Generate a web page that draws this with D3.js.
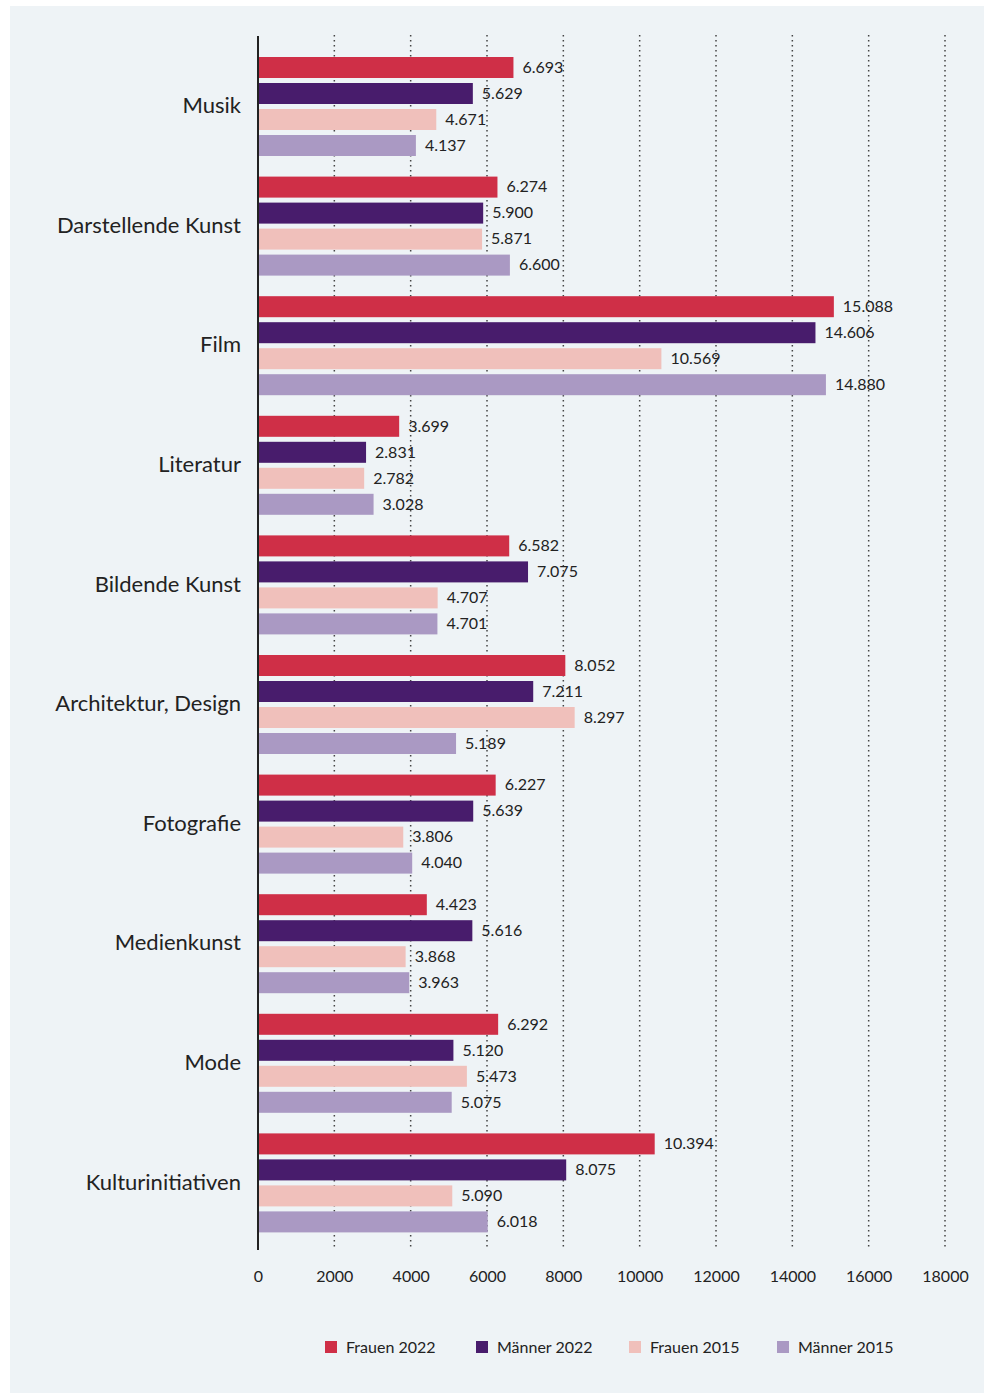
<!DOCTYPE html>
<html>
<head>
<meta charset="utf-8">
<script src="https://cdn.jsdelivr.net/npm/d3@7"></script>
<style>
  body { margin: 0; background: #fff; }
  svg { display: block; font-family: Lato, "Open Sans", sans-serif; }
</style>
</head>
<body>
<svg id="chart"></svg>
<script>
const categories = ['Musik', 'Darstellende Kunst', 'Film', 'Literatur', 'Bildende Kunst',
  'Architektur, Design', 'Fotografie', 'Medienkunst', 'Mode', 'Kulturinitiativen'];
const seriesNames = ['Frauen 2022', 'Männer 2022', 'Frauen 2015', 'Männer 2015'];
const frauen2022 = [6693, 6274, 15088, 3699, 6582, 8052, 6227, 4423, 6292, 10394];
const maenner2022 = [5629, 5900, 14606, 2831, 7075, 7211, 5639, 5616, 5120, 8075];
const frauen2015 = [4671, 5871, 10569, 2782, 4707, 8297, 3806, 3868, 5473, 5090];
const maenner2015 = [4137, 6600, 14880, 3028, 4701, 5189, 4040, 3963, 5075, 6018];
const xTicks = [0, 2000, 4000, 6000, 8000, 10000, 12000, 14000, 16000, 18000];
const colors = ['#cf2f47', '#481c6c', '#f0c0bb', '#aa99c3'];

const series = [frauen2022, maenner2022, frauen2015, maenner2015];

const W = 984, H = 1393;
const svg = d3.select('#chart').attr('width', W).attr('height', H);

svg.append('rect').attr('x', 10).attr('y', 6).attr('width', W - 10).attr('height', H - 6)
  .attr('fill', '#eef3f6');

const x = d3.scaleLinear().domain([0, 18000]).range([258, 945]);
const y = d3.scaleBand().domain(categories).range([46.5, 1242.5]).paddingInner(0).paddingOuter(0);
const ySub = d3.scaleBand().domain(d3.range(4)).range([10.5, 109.5]).paddingInner(5 / 26).paddingOuter(0);

// gridlines
svg.append('g')
  .selectAll('line')
  .data(xTicks.slice(1))
  .join('line')
  .attr('x1', d => x(d)).attr('x2', d => x(d))
  .attr('y1', 35).attr('y2', 1250)
  .attr('stroke', '#444')
  .attr('stroke-width', 1.5)
  .attr('stroke-dasharray', '1.5,3.5');

// bars
const groups = svg.append('g')
  .selectAll('g')
  .data(categories)
  .join('g')
  .attr('transform', d => `translate(0,${y(d)})`);

const fmt = d3.formatLocale({ decimal: ',', thousands: '.', grouping: [3] }).format(',');

groups.each(function (cat, i) {
  const g = d3.select(this);
  const vals = series.map((s, k) => ({ k, v: s[i] }));
  g.selectAll('rect')
    .data(vals)
    .join('rect')
    .attr('x', x(0) + 1)
    .attr('y', d => ySub(d.k))
    .attr('width', d => x(d.v) - x(0) - 1)
    .attr('height', ySub.bandwidth())
    .attr('fill', d => colors[d.k]);
  g.selectAll('text')
    .data(vals)
    .join('text')
    .attr('x', d => x(d.v) + 9)
    .attr('y', d => ySub(d.k) + ySub.bandwidth() / 2)
    .attr('dy', '0.33em')
    .attr('font-size', 16)
    .attr('fill', '#222')
    .text(d => fmt(d.v));
  g.append('text')
    .attr('x', 241)
    .attr('y', 59)
    .attr('dy', '0.35em')
    .attr('text-anchor', 'end')
    .attr('font-size', 22)
    .attr('fill', '#222')
    .text(cat);
});

// axis line
svg.append('line')
  .attr('x1', x(0)).attr('x2', x(0))
  .attr('y1', 36).attr('y2', 1250)
  .attr('stroke', '#222').attr('stroke-width', 2);

// tick labels
const xAxis = d3.axisBottom(x).tickValues(xTicks).tickSize(0).tickPadding(0).tickFormat(d3.format('d'));
const ax = svg.append('g').attr('transform', 'translate(0,1271)').call(xAxis);
ax.select('.domain').remove();
ax.selectAll('text').attr('font-size', 16).attr('fill', '#222')
  .attr('font-family', 'Lato, "Open Sans", sans-serif');

// legend
const legendX = [325, 476, 629, 777];
const legend = svg.append('g')
  .selectAll('g')
  .data(seriesNames)
  .join('g')
  .attr('transform', (d, i) => `translate(${legendX[i]},1341)`);
legend.append('rect').attr('width', 12).attr('height', 12).attr('fill', (d, i) => colors[i]);
legend.append('text').attr('x', 21).attr('y', 6).attr('dy', '0.35em')
  .attr('font-size', 16).attr('fill', '#222').text(d => d);
</script>
</body>
</html>
